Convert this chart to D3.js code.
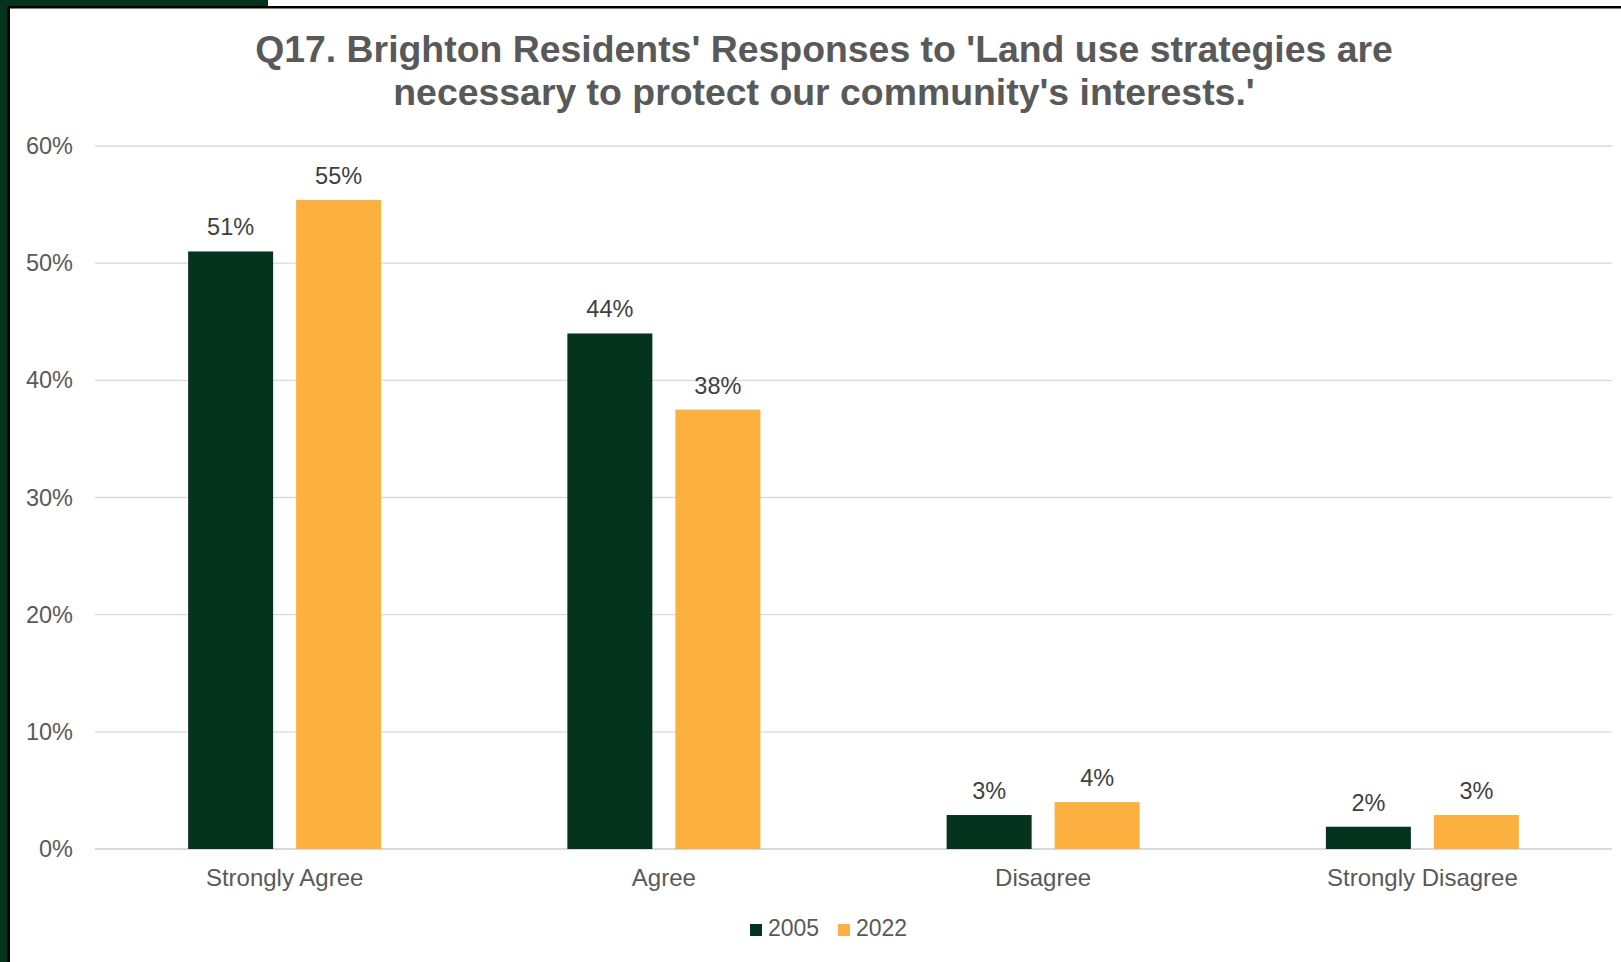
<!DOCTYPE html>
<html>
<head>
<meta charset="utf-8">
<script src="https://cdn.jsdelivr.net/npm/d3@7"></script>
<style>
  body { margin: 0; background: #fff; }
  svg { display: block; font-family: "Liberation Sans", Arial, sans-serif; }
</style>
</head>
<body>
<div id="container"></div>
<script>
var categories = ["Strongly Agree", "Agree", "Disagree", "Strongly Disagree"];
var seriesNames = ["2005", "2022"];
var values2005 = [51.0, 44.0, 2.9, 1.9];
var values2022 = [55.4, 37.5, 4.0, 2.9];
var tickValues = [0, 10, 20, 30, 40, 50, 60];
var titleLines = ["Q17. Brighton Residents' Responses to 'Land use strategies are",
                  "necessary to protect our community's interests.'"];

var barColors = ["#04331e", "#fbb040"];

function createChart() {
  var chartWidth = 1621, chartHeight = 962;
  var margin = {left: 95, right: 9, top: 146, bottom: 113};

  var chart = d3.select("#container").
  append("svg").
  attr("width", chartWidth).
  attr("height", chartHeight);

  // frame: green strips and black border lines
  chart.append("rect").attr("x", 0).attr("y", 0).attr("width", 8).attr("height", chartHeight).attr("fill", "#04331e");
  chart.append("rect").attr("x", 0).attr("y", 0).attr("width", 268).attr("height", 7).attr("fill", "#04331e");
  chart.append("rect").attr("x", 8).attr("y", 6).attr("width", chartWidth - 8).attr("height", 2.5).attr("fill", "#000");
  chart.append("rect").attr("x", 7.5).attr("y", 6).attr("width", 2.5).attr("height", chartHeight).attr("fill", "#000");

  // title
  chart.append("text").
  attr("text-anchor", "middle").
  attr("fill", "#595959").
  style("font-size", "37.4px").
  style("font-weight", "bold").
  selectAll("tspan").
  data(titleLines).
  enter().
  append("tspan").
  attr("x", 824).
  attr("y", function (d, i) {return 62 + i * 43;}).
  text(function (d) {return d;});

  var x0 = d3.scaleBand().
  domain(categories).
  range([margin.left, chartWidth - margin.right]).
  paddingInner(0).
  paddingOuter(0);

  // two bars of 85px with a 23px gap, centred in each category
  var barWidth = 85, barGap = 23;
  var x1 = d3.scaleBand().
  domain(seriesNames).
  range([0, barWidth * 2 + barGap]).
  paddingInner(barGap / (barWidth + barGap)).
  paddingOuter(0);

  var y = d3.scaleLinear().
  domain([0, 60]).
  range([chartHeight - margin.bottom, margin.top]);

  // gridlines
  chart.append("g").
  selectAll("line").
  data(tickValues).
  enter().
  append("line").
  attr("x1", margin.left).
  attr("x2", chartWidth - margin.right).
  attr("y1", function (d) {return y(d);}).
  attr("y2", function (d) {return y(d);}).
  attr("stroke", "#d9d9d9").
  attr("stroke-width", function (d) {return d === 0 ? 2 : 1.4;});

  // y axis labels
  var yAxis = d3.axisLeft(y).
  tickValues(tickValues).
  tickSize(0).
  tickPadding(22).
  tickFormat(function (d) {return d + "%";});
  var yg = chart.append("g").
  attr("transform", "translate(" + margin.left + ",0)").
  call(yAxis);
  yg.select(".domain").remove();
  yg.selectAll("text").
  attr("fill", "#595959").
  style("font-size", "23.5px").
  style("font-family", "Liberation Sans, Arial, sans-serif");

  // x axis labels
  var xAxis = d3.axisBottom(x0).tickSize(0).tickPadding(20);
  var xg = chart.append("g").
  attr("transform", "translate(0," + y(0) + ")").
  call(xAxis);
  xg.select(".domain").remove();
  xg.selectAll("text").
  attr("fill", "#595959").
  style("font-size", "24px").
  style("font-family", "Liberation Sans, Arial, sans-serif");

  // bars
  var rows = categories.map(function (c, i) {
    return {category: c, values: [values2005[i], values2022[i]]};
  });

  var groups = chart.append("g").
  selectAll("g").
  data(rows).
  enter().
  append("g").
  attr("transform", function (d) {
    return "translate(" + (x0(d.category) + (x0.bandwidth() - x1.range()[1]) / 2) + ",0)";
  });

  groups.selectAll("rect").
  data(function (d) {return d.values.map(function (v, i) {return {series: seriesNames[i], value: v, idx: i};});}).
  enter().
  append("rect").
  attr("x", function (d) {return x1(d.series);}).
  attr("width", x1.bandwidth()).
  attr("y", function (d) {return y(d.value);}).
  attr("height", function (d) {return y(0) - y(d.value);}).
  attr("fill", function (d) {return barColors[d.idx];});

  // data labels
  groups.selectAll("text").
  data(function (d) {return d.values.map(function (v, i) {return {series: seriesNames[i], value: v};});}).
  enter().
  append("text").
  attr("x", function (d) {return x1(d.series) + x1.bandwidth() / 2;}).
  attr("y", function (d) {return y(d.value) - 16;}).
  attr("text-anchor", "middle").
  attr("fill", "#404040").
  style("font-size", "23.5px").
  text(function (d) {return Math.round(d.value) + "%";});

  // legend
  var legend = chart.append("g").
  attr("transform", "translate(750, 924)");
  var legendItems = legend.selectAll("g").
  data(seriesNames).
  enter().
  append("g").
  attr("transform", function (d, i) {return "translate(" + i * 88 + ",0)";});
  legendItems.append("rect").
  attr("width", 12).
  attr("height", 12).
  attr("fill", function (d, i) {return barColors[i];});
  legendItems.append("text").
  attr("x", 18).
  attr("y", 12).
  attr("fill", "#595959").
  style("font-size", "23px").
  text(function (d) {return d;});
}

window.onload = function () {
  createChart();
};
</script>
</body>
</html>
